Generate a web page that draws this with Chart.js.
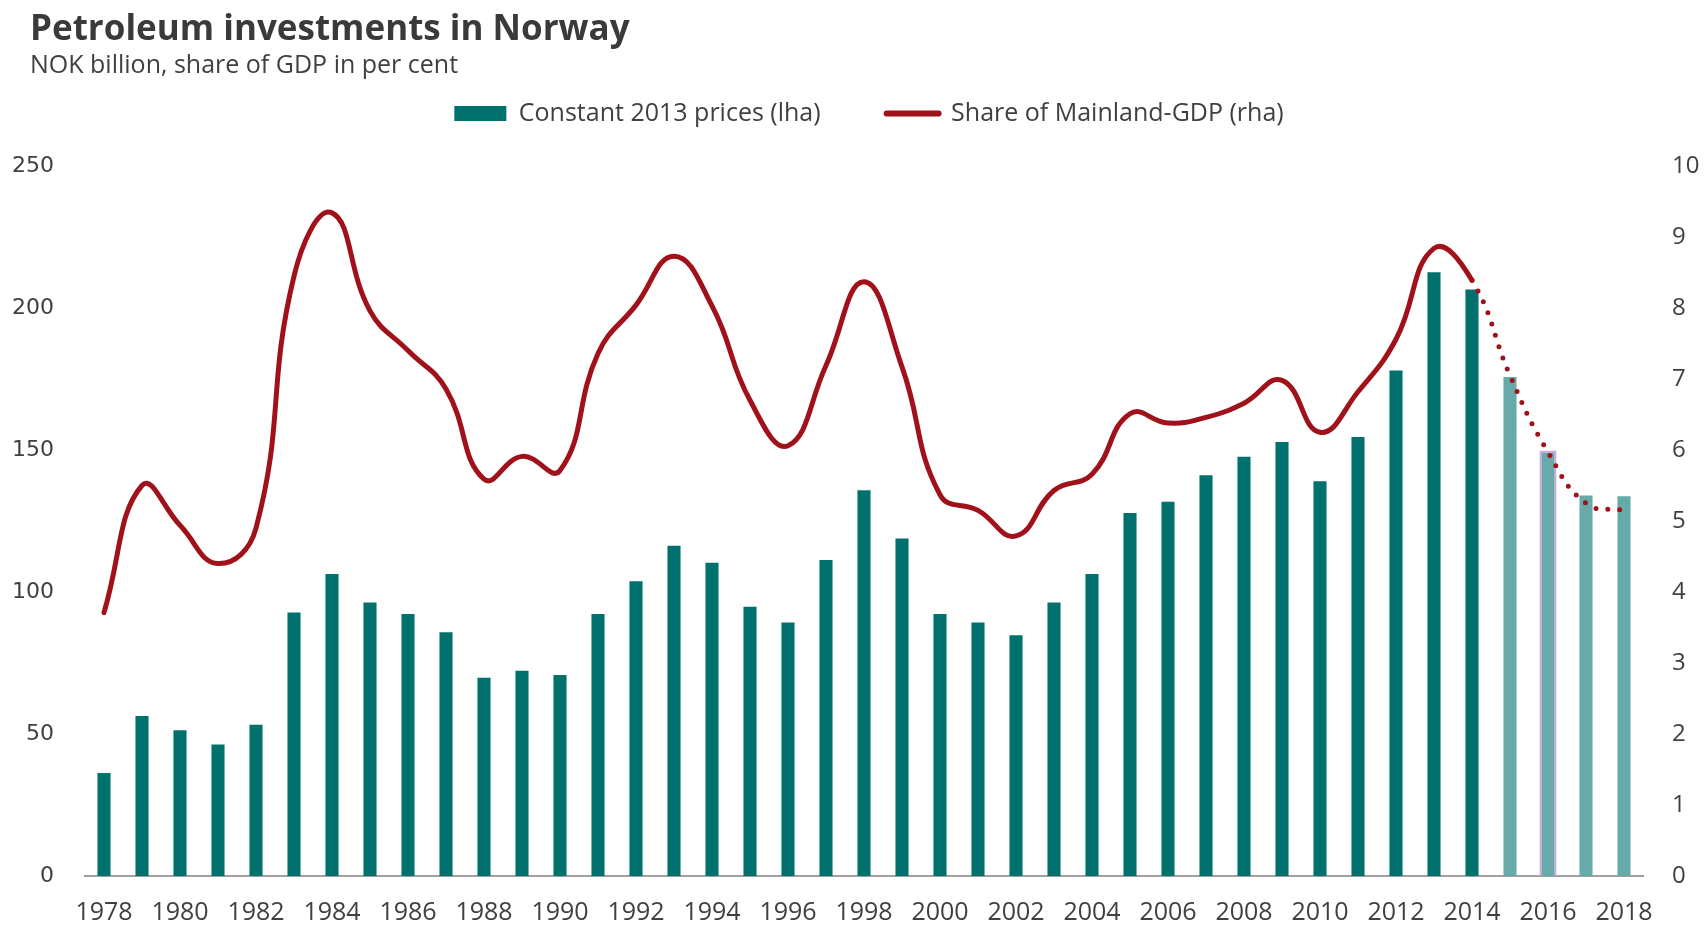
<!DOCTYPE html>
<html>
<head>
<meta charset="utf-8">
<title>Petroleum investments in Norway</title>
<script src="https://cdn.jsdelivr.net/npm/chart.js@4.4.1/dist/chart.umd.min.js"></script>
<style>
  body { margin: 0; background: #fff; }
  #wrap { position: relative; width: 1704px; height: 927px; }
  #title { position: absolute; left: 30px; top: 3px; margin: 0; font: bold 35px "Open Sans", sans-serif; color: #3a3a3a; }
  #subtitle { position: absolute; left: 30px; top: 46px; font: 25px "Open Sans", sans-serif; color: #404040; }
  #investChart { position: absolute; left: 0; top: 0; }
</style>
</head>
<body>
<div id="wrap">
  <canvas id="investChart" width="1704" height="927"></canvas>
  <h1 id="title">Petroleum investments in Norway</h1>
  <div id="subtitle">NOK billion, share of GDP in per cent</div>
</div>
<script>
const years = ['1978','1979','1980','1981','1982','1983','1984','1985','1986','1987',
  '1988','1989','1990','1991','1992','1993','1994','1995','1996','1997',
  '1998','1999','2000','2001','2002','2003','2004','2005','2006','2007',
  '2008','2009','2010','2011','2012','2013','2014','2015','2016','2017','2018'];

// NOK billion, constant 2013 prices (left axis)
const investments = [37, 57, 52, 47, 54, 93.5, 107, 97, 93, 86.5,
  70.5, 73, 71.5, 93, 104.5, 117, 111, 95.5, 90, 112,
  136.5, 119.5, 93, 90, 85.5, 97, 107, 128.5, 132.5, 141.8,
  148.3, 153.5, 139.7, 155.3, 178.7, 213.3, 207.2, 176.4, 149.8, 134.7, 134.4];

// share of mainland GDP, per cent (right axis)
const gdpShare = [3.71, 5.50, 4.94, 4.40, 4.90, 8.45, 9.34, 7.96, 7.40, 6.86,
  5.59, 5.91, 5.71, 7.36, 8.04, 8.73, 8.03, 6.70, 6.06, 7.19,
  8.37, 7.17, 5.37, 5.15, 4.79, 5.43, 5.66, 6.51, 6.38, 6.46,
  6.66, 6.98, 6.25, 6.82, 7.56, 8.84, 8.39, 7.05, 5.97, 5.25, 5.15];

const firstForecast = 2015; // projections from here on

const barColors = years.map(y => +y >= firstForecast ? '#66abaa' : '#00716d');
const barBorders = years.map(y => y === '2016' ? '#d8a3e2' : 'rgba(0,0,0,0)');

const forecastIndex = years.indexOf(String(firstForecast)) - 1;

// extra room under the legend, and nudge it a bit right
const legendGap = {
  id: 'legendGap',
  beforeInit(chart) {
    const fitLegend = chart.legend.fit;
    chart.legend.fit = function fit() {
      fitLegend.bind(chart.legend)();
      this.height += 30;
    };
  },
  afterLayout(chart) {
    chart.legend.left += 17;
    chart.legend.right += 17;
  }
};

const ctx = document.getElementById('investChart').getContext('2d');

new Chart(ctx, {
  data: {
    labels: years,
    datasets: [
      {
        type: 'bar',
        label: 'Constant 2013 prices (lha)',
        data: investments,
        backgroundColor: barColors,
        borderColor: barBorders,
        borderWidth: 2,
        borderSkipped: 'bottom',
        barPercentage: 0.9,
        categoryPercentage: 0.5,
        yAxisID: 'y',
        order: 2
      },
      {
        type: 'line',
        label: 'Share of Mainland-GDP (rha)',
        data: gdpShare,
        borderColor: '#a11119',
        borderWidth: 5,
        borderCapStyle: 'round',
        tension: 0.45,
        pointRadius: 0,
        yAxisID: 'y1',
        order: 1,
        segment: {
          borderDash: c => c.p0DataIndex >= forecastIndex ? [0, 12] : undefined
        }
      }
    ]
  },
  options: {
    responsive: false,
    animation: false,
    layout: { padding: { top: 35, left: 0, right: 0, bottom: 0 } },
    plugins: {
      tooltip: { enabled: false },
      legend: {
        position: 'top',
        labels: {
          usePointStyle: true,
          pointStyleWidth: 52,
          boxHeight: 15,
          padding: 66,
          color: '#404040',
          font: { family: 'Open Sans', size: 25 },
          generateLabels: chart => chart.data.datasets.map((ds, i) => ({
            text: ds.label,
            datasetIndex: i,
            pointStyle: ds.type === 'bar' ? 'rect' : 'line',
            fillStyle: ds.type === 'bar' ? '#00716d' : '#a11119',
            strokeStyle: ds.type === 'bar' ? '#00716d' : '#a11119',
            lineWidth: ds.type === 'bar' ? 0 : 6,
            lineCap: 'round',
            fontColor: '#404040'
          }))
        }
      }
    },
    scales: {
      x: {
        grid: { display: false, drawTicks: false },
        border: { display: true, color: '#a0a0a0', width: 2 },
        afterFit: s => { s.height = 51; },
        ticks: {
          autoSkip: false,
          maxRotation: 0,
          padding: 22,
          color: '#404040',
          font: { family: 'Open Sans', size: 25 },
          callback: (v, i) => i % 2 === 0 ? years[i] : ''
        }
      },
      y: {
        position: 'left',
        min: 0,
        max: 250,
        grid: { display: false, drawTicks: false },
        border: { display: false },
        afterFit: s => { s.width = 85; },
        ticks: {
          stepSize: 50,
          padding: 31,
          color: '#404040',
          font: { family: 'DejaVu Sans', size: 22 }
        }
      },
      y1: {
        position: 'right',
        min: 0,
        max: 10,
        grid: { display: false, drawTicks: false },
        border: { display: false },
        afterFit: s => { s.width = 61; },
        ticks: {
          stepSize: 1,
          padding: 29,
          color: '#404040',
          font: { family: 'Open Sans', size: 24 }
        }
      }
    }
  },
  plugins: [legendGap]
});
</script>
</body>
</html>
